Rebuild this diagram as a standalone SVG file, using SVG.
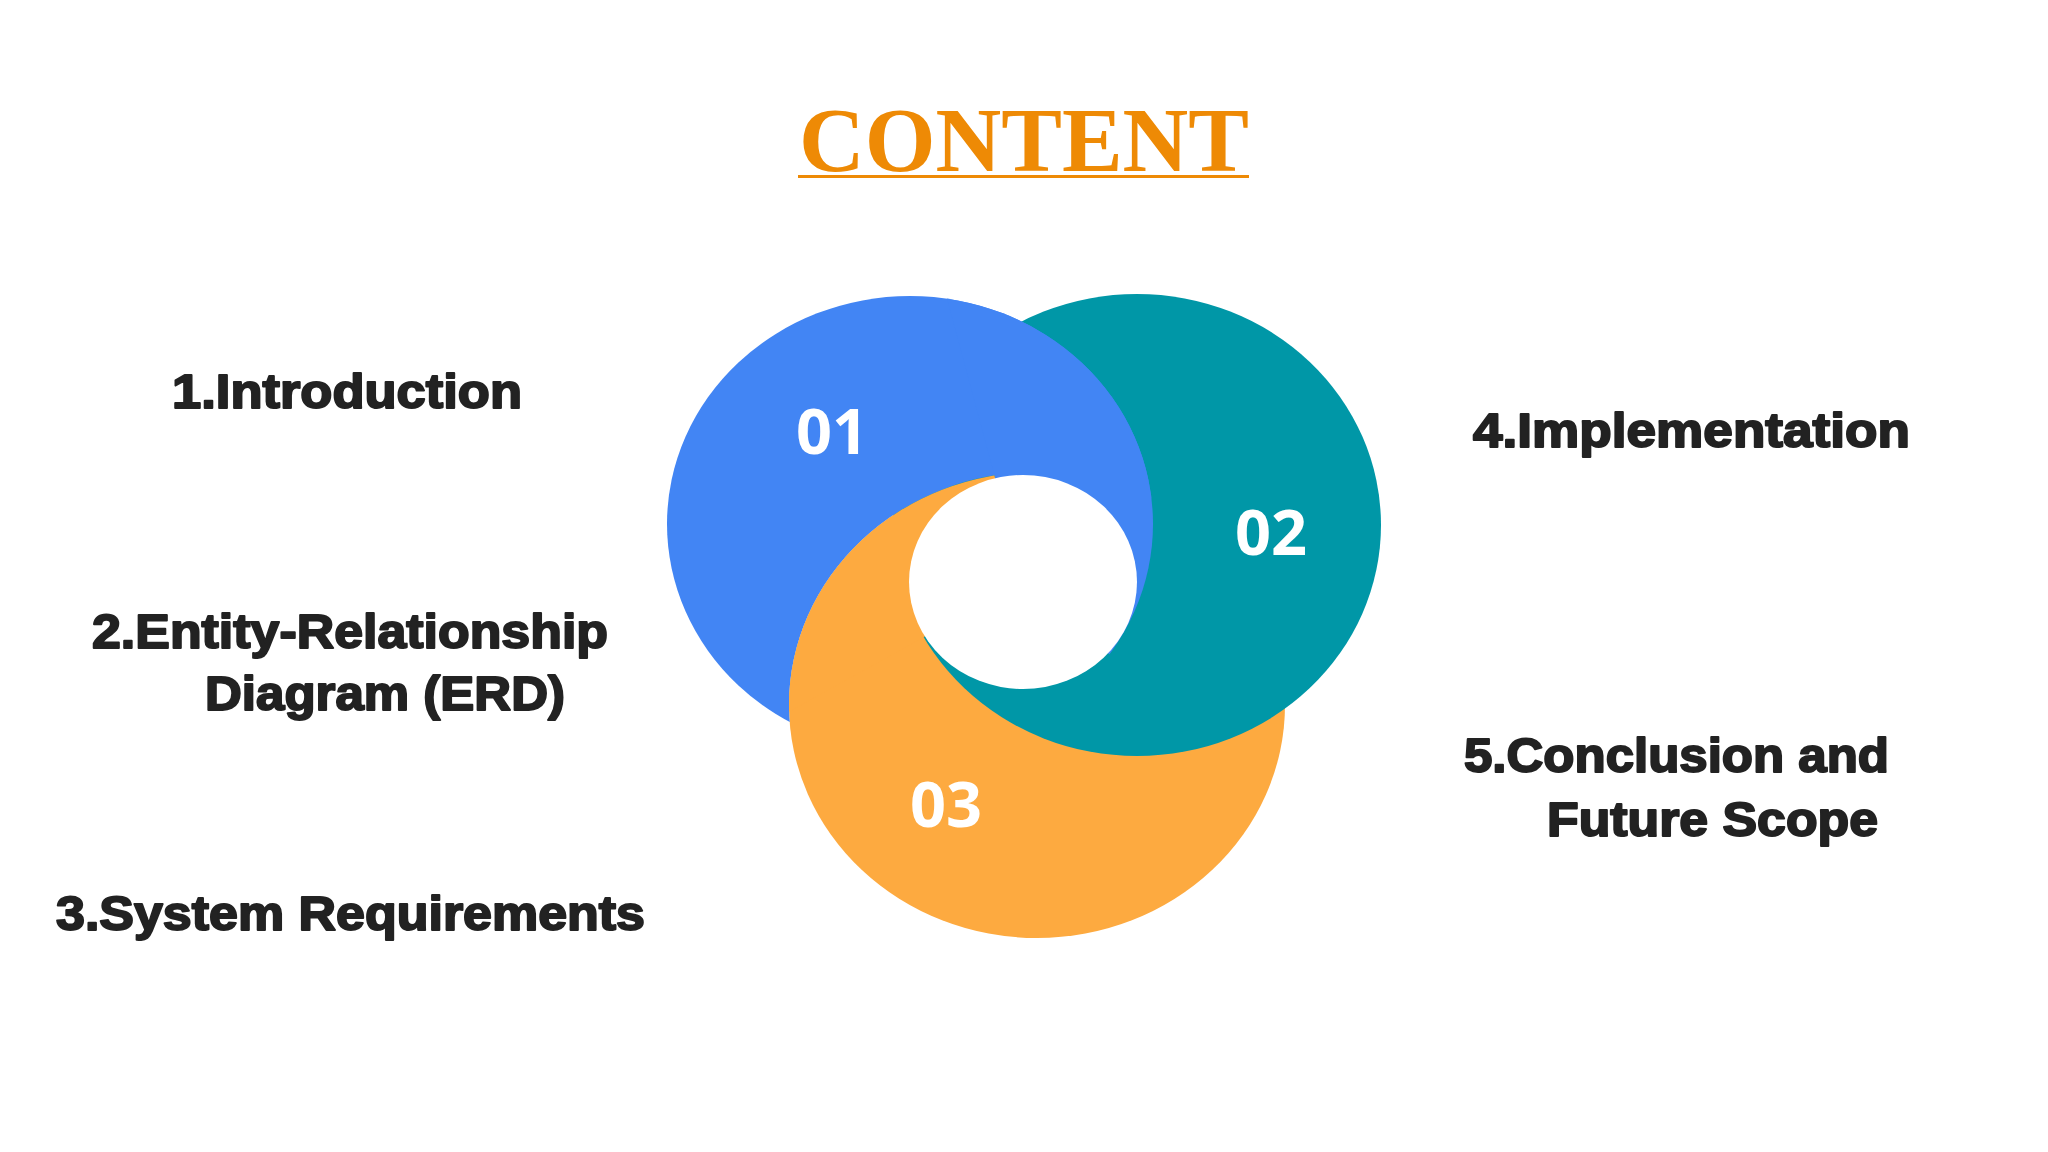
<svg xmlns="http://www.w3.org/2000/svg" width="2048" height="1152" viewBox="0 0 2048 1152">
  <style>
    .title { font-family: "Liberation Serif", "Times New Roman", serif; font-weight: 700; font-size: 91px; fill: #EE8A05; }
    .lbl { font-family: "Liberation Sans", Arial, sans-serif; font-weight: 700; font-size: 49px; fill: #222222; stroke: #222222; stroke-width: 2; stroke-linejoin: round; }
    .num { font-family: "Open Sans", "Liberation Sans", sans-serif; font-weight: 700; font-size: 63px; fill: #FFFFFF; }
    .blue { fill: #4285F4; }
    .teal { fill: #0097A7; }
    .orange { fill: #FDAA40; }
  </style>
  <defs>
    <clipPath id="notOrange">
      <path clip-rule="evenodd" d="M0 0H2048V1152H0Z M789 705 a248 233 0 1 0 496 0 a248 233 0 1 0 -496 0Z"/>
    </clipPath>
    <clipPath id="wedgeBlue">
      <polygon points="1023,582 764,-384 2100,-384 2100,1300 1880,1300"/>
    </clipPath>
    <clipPath id="wedgeOrange">
      <polygon points="1023,582 -27,1164 -1000,1164 -1000,-577 712,-577"/>
    </clipPath>
  </defs>
  <rect width="2048" height="1152" fill="#FFFFFF"/>

  <g id="title">
    <text class="title" x="1024" y="171" text-anchor="middle">CONTENT</text>
    <line x1="798" y1="176.5" x2="1249" y2="176.5" stroke="#EE8A05" stroke-width="3"/>
  </g>

  <g id="node-03">
    <ellipse class="orange" cx="1037" cy="705" rx="248" ry="233"/>
    <text class="num" x="910" y="827">03</text>
  </g>
  <g id="node-02">
    <ellipse class="teal" cx="1137" cy="525" rx="244" ry="231"/>
    <text class="num" x="1235" y="555">02</text>
  </g>
  <g id="node-01">
    <ellipse class="blue" cx="910" cy="524" rx="243" ry="228" clip-path="url(#notOrange)"/>
    <text class="num" x="796" y="454">01</text>
  </g>
  <g id="weave">
    <ellipse class="blue" cx="910" cy="524" rx="243" ry="228" clip-path="url(#wedgeBlue)"/>
    <ellipse class="orange" cx="1037" cy="705" rx="248" ry="233" clip-path="url(#wedgeOrange)"/>
    <ellipse cx="1023" cy="582" rx="114" ry="107" fill="#FFFFFF"/>
  </g>

  <g id="item-1">
    <text class="lbl" x="172" y="408" textLength="350" lengthAdjust="spacingAndGlyphs">1.Introduction</text>
  </g>
  <g id="item-2">
    <text class="lbl" x="92" y="648" textLength="516" lengthAdjust="spacingAndGlyphs">2.Entity-Relationship</text>
    <text class="lbl" x="205" y="710" textLength="360" lengthAdjust="spacingAndGlyphs">Diagram (ERD)</text>
  </g>
  <g id="item-3">
    <text class="lbl" x="56" y="930" textLength="589" lengthAdjust="spacingAndGlyphs">3.System Requirements</text>
  </g>
  <g id="item-4">
    <text class="lbl" x="1473" y="447" textLength="437" lengthAdjust="spacingAndGlyphs">4.Implementation</text>
  </g>
  <g id="item-5">
    <text class="lbl" x="1464" y="772" textLength="425" lengthAdjust="spacingAndGlyphs">5.Conclusion and</text>
    <text class="lbl" x="1547" y="836" textLength="331" lengthAdjust="spacingAndGlyphs">Future Scope</text>
  </g>
</svg>
